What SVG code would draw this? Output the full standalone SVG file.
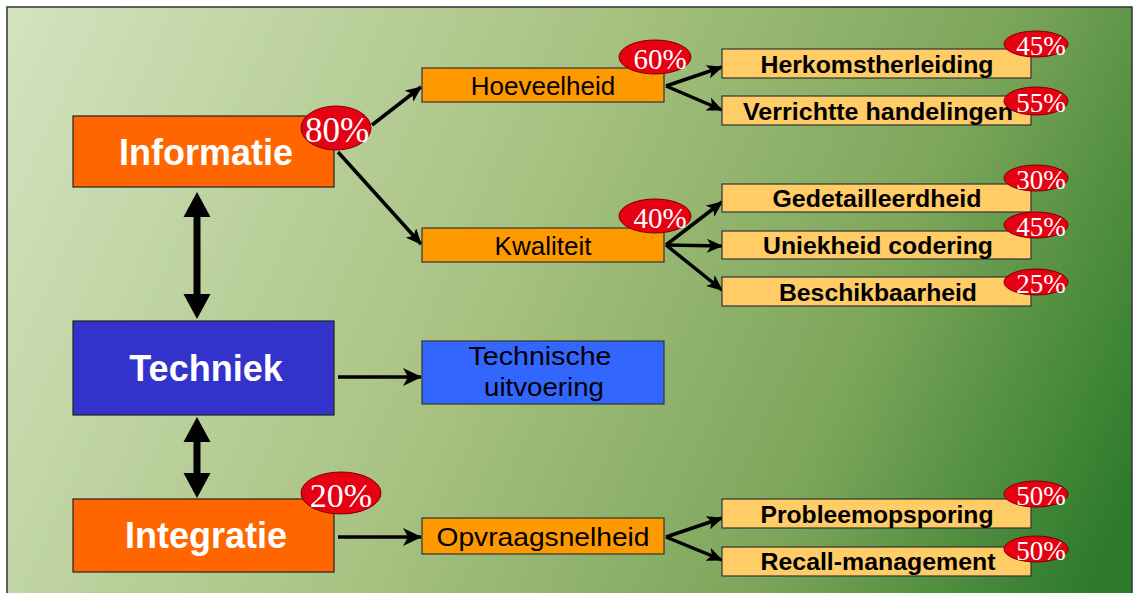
<svg xmlns="http://www.w3.org/2000/svg" width="1134" height="593" viewBox="0 0 1134 593">
<defs>
<linearGradient id="bg" gradientUnits="userSpaceOnUse" x1="0" y1="0" x2="1134" y2="500">
<stop offset="0" stop-color="#d4e4c0"/>
<stop offset="0.45" stop-color="#a8c282"/>
<stop offset="0.75" stop-color="#7ca65a"/>
<stop offset="1" stop-color="#2c7a2a"/>
</linearGradient>
<marker id="ah" markerUnits="userSpaceOnUse" markerWidth="16" markerHeight="14" refX="15" refY="7" orient="auto" viewBox="0 0 16 14">
<path d="M0,0 L16,7 L0,14 L4,7 z" fill="#000"/>
</marker>
<marker id="ahb" markerUnits="userSpaceOnUse" markerWidth="19" markerHeight="18" refX="18" refY="9" orient="auto" viewBox="0 0 19 18">
<path d="M0,0 L19,9 L0,18 L5,9 z" fill="#000"/>
</marker>
</defs>
<style>
.main{stroke:#222;stroke-width:1.2}
.mtxt{font-family:"Liberation Sans",Arial,sans-serif;font-weight:bold;font-size:36px;fill:#fff;text-anchor:middle}
.mid{fill:#ff9900;stroke:#333;stroke-width:1.2}
.midt{font-family:"Liberation Sans",Arial,sans-serif;font-size:26px;fill:#000;text-anchor:middle}
.leaf{fill:#ffcc66;stroke:#333;stroke-width:1.2}
.leaft{font-family:"Liberation Sans",Arial,sans-serif;font-weight:bold;font-size:23px;fill:#000;text-anchor:middle}
.pct{fill:#e60012;stroke:#7a0000;stroke-width:1}
.pctt{font-family:"Liberation Serif","Times New Roman",serif;fill:#fff;text-anchor:middle}
.c{stroke:#000;fill:none;stroke-width:3.5}
</style>
<rect x="0" y="0" width="1134" height="593" fill="#fff"/>
<rect x="7" y="7" width="1125" height="600" fill="url(#bg)" stroke="#333" stroke-width="1.5"/>

<g id="connectors">
<line class="c" x1="372" y1="125" x2="421" y2="87" marker-end="url(#ah)"/>
<line class="c" x1="338" y1="152" x2="421" y2="244" marker-end="url(#ah)"/>
<line class="c" x1="666" y1="86" x2="722" y2="67" marker-end="url(#ah)"/>
<line class="c" x1="666" y1="86" x2="722" y2="110" marker-end="url(#ah)"/>
<line class="c" x1="666" y1="245" x2="722" y2="202" marker-end="url(#ah)"/>
<line class="c" x1="666" y1="245" x2="722" y2="246" marker-end="url(#ah)"/>
<line class="c" x1="666" y1="245" x2="722" y2="290" marker-end="url(#ah)"/>
<line class="c" x1="666" y1="537" x2="722" y2="518" marker-end="url(#ah)"/>
<line class="c" x1="666" y1="537" x2="722" y2="560" marker-end="url(#ah)"/>
<line class="c" stroke-width="4.5" x1="338" y1="377" x2="421" y2="377" marker-end="url(#ahb)"/>
<line class="c" stroke-width="4.5" x1="338" y1="537" x2="421" y2="537" marker-end="url(#ahb)"/>
<line stroke="#000" stroke-width="7" x1="197" y1="212" x2="197" y2="300"/>
<path d="M197,192 L210.5,217 L183.5,217 z M197,319 L210.5,294 L183.5,294 z" fill="#000"/>
<line stroke="#000" stroke-width="7" x1="197" y1="438" x2="197" y2="478"/>
<path d="M197,417 L210.5,442 L183.5,442 z M197,498 L210.5,473 L183.5,473 z" fill="#000"/>
</g>

<g id="informatie">
<rect class="main" x="73" y="116" width="261" height="71" fill="#ff6600"/>
<text class="mtxt" x="206" y="165">Informatie</text>
<ellipse class="pct" cx="336" cy="128" rx="35" ry="22"/>
<text class="pctt" x="337" y="142" font-size="35">80%</text>
</g>
<g id="techniek">
<rect class="main" x="73" y="321" width="261" height="94" fill="#3333cc"/>
<text class="mtxt" x="206" y="381">Techniek</text>
</g>
<g id="integratie">
<rect class="main" x="73" y="499" width="261" height="73" fill="#ff6600"/>
<text class="mtxt" x="206" y="548">Integratie</text>
<ellipse class="pct" cx="341" cy="493" rx="40" ry="21"/>
<text class="pctt" x="341" y="507" font-size="34">20%</text>
</g>

<g id="hoeveelheid">
<rect class="mid" x="422" y="68" width="242" height="34"/>
<text class="midt" x="543" y="95">Hoeveelheid</text>
<ellipse class="pct" cx="655" cy="57" rx="36" ry="17"/>
<text class="pctt" x="660" y="69" font-size="29">60%</text>
</g>
<g id="kwaliteit">
<rect class="mid" x="422" y="228" width="242" height="34"/>
<text class="midt" x="543" y="255">Kwaliteit</text>
<ellipse class="pct" cx="655" cy="216" rx="36" ry="17"/>
<text class="pctt" x="660" y="228" font-size="29">40%</text>
</g>
<g id="technische-uitvoering">
<rect x="422" y="341" width="242" height="63" fill="#3366ff" stroke="#333" stroke-width="1.2"/>
<text class="midt" x="540" y="365" textLength="143" lengthAdjust="spacingAndGlyphs">Technische</text>
<text class="midt" x="544" y="396" textLength="120" lengthAdjust="spacingAndGlyphs">uitvoering</text>
</g>
<g id="opvraagsnelheid">
<rect class="mid" x="422" y="518" width="242" height="36"/>
<text class="midt" x="543" y="546" textLength="213" lengthAdjust="spacingAndGlyphs">Opvraagsnelheid</text>
</g>

<g id="herkomstherleiding">
<rect class="leaf" x="722" y="49" width="309" height="29"/>
<text class="leaft" x="877" y="73" textLength="233" lengthAdjust="spacingAndGlyphs">Herkomstherleiding</text>
<ellipse class="pct" cx="1036" cy="44" rx="32" ry="13"/>
<text class="pctt" x="1041" y="55" font-size="27">45%</text>
</g>
<g id="verrichtte-handelingen">
<rect class="leaf" x="722" y="96" width="309" height="29"/>
<text class="leaft" x="878" y="120" textLength="270" lengthAdjust="spacingAndGlyphs">Verrichtte handelingen</text>
<ellipse class="pct" cx="1036" cy="101" rx="32" ry="14"/>
<text class="pctt" x="1041" y="112" font-size="27">55%</text>
</g>
<g id="gedetailleerdheid">
<rect class="leaf" x="722" y="184" width="309" height="28"/>
<text class="leaft" x="877" y="207" textLength="209" lengthAdjust="spacingAndGlyphs">Gedetailleerdheid</text>
<ellipse class="pct" cx="1036" cy="178" rx="32" ry="13"/>
<text class="pctt" x="1041" y="189" font-size="27">30%</text>
</g>
<g id="uniekheid-codering">
<rect class="leaf" x="722" y="231" width="309" height="28"/>
<text class="leaft" x="878" y="254" textLength="230" lengthAdjust="spacingAndGlyphs">Uniekheid codering</text>
<ellipse class="pct" cx="1036" cy="225" rx="32" ry="13"/>
<text class="pctt" x="1041" y="236" font-size="27">45%</text>
</g>
<g id="beschikbaarheid">
<rect class="leaf" x="722" y="277" width="309" height="29"/>
<text class="leaft" x="878" y="301" textLength="198" lengthAdjust="spacingAndGlyphs">Beschikbaarheid</text>
<ellipse class="pct" cx="1036" cy="282" rx="32" ry="13"/>
<text class="pctt" x="1041" y="293" font-size="27">25%</text>
</g>
<g id="probleemopsporing">
<rect class="leaf" x="722" y="499" width="309" height="29"/>
<text class="leaft" x="877" y="523" textLength="233" lengthAdjust="spacingAndGlyphs">Probleemopsporing</text>
<ellipse class="pct" cx="1036" cy="494" rx="32" ry="13"/>
<text class="pctt" x="1041" y="505" font-size="27">50%</text>
</g>
<g id="recall-management">
<rect class="leaf" x="722" y="547" width="309" height="29"/>
<text class="leaft" x="878" y="570" textLength="235" lengthAdjust="spacingAndGlyphs">Recall-management</text>
<ellipse class="pct" cx="1036" cy="549" rx="32" ry="13"/>
<text class="pctt" x="1041" y="560" font-size="27">50%</text>
</g>
</svg>
